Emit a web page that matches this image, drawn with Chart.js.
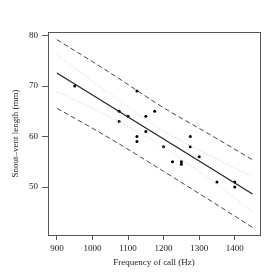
<!DOCTYPE html>
<html>
<head>
<meta charset="utf-8">
<script src="https://cdn.jsdelivr.net/npm/chart.js@4.4.1/dist/chart.umd.min.js"></script>
<style>
  html, body { margin: 0; padding: 0; background: #fff; }
  #wrap { width: 277px; height: 274px; }
</style>
</head>
<body>
<div id="wrap"><canvas id="callChart" width="277" height="274"></canvas></div>
<script>
// =================== DATA ===================
const freqHz = [950, 1075, 1075, 1100, 1125, 1125, 1125, 1150, 1150, 1175, 1200, 1225, 1250, 1250, 1275, 1275, 1300, 1350, 1400, 1400];
const svlMm  = [70, 65, 63, 64, 69, 60, 59, 64, 61, 65, 58, 55, 55, 54.5, 60, 58, 56, 51, 51, 50];

// fitted line
const fitX = [900, 1450];
const fitY = [72.6, 48.6];

// bands
const bandX        = [900, 1050, 1200, 1325, 1450];
const confUpper    = [76.2, 68.4, 61.1, 56.4, 52.0];
const confLower    = [68.9, 63.8, 57.9, 51.8, 45.2];
const predUpper    = [79.2, 72.6, 65.7, 60.6, 55.4];
const predLower    = [65.6, 59.6, 53.1, 47.6, 42.0];

const xTicks = [900, 1000, 1100, 1200, 1300, 1400];
const yTicks = [50, 60, 70, 80];

const pairs = (xs, ys) => xs.map((x, i) => ({ x: x, y: ys[i] }));

// box around plot area
const boxPlugin = {
  id: "box",
  afterDatasetsDraw(chart) {
    const a = chart.chartArea;
    const ctx = chart.ctx;
    ctx.save();
    ctx.strokeStyle = "#555";
    ctx.lineWidth = 1;
    ctx.strokeRect(Math.round(a.left) + 0.5, Math.round(a.top) + 0.5,
                   Math.round(a.right - a.left), Math.round(a.bottom - a.top));
    ctx.restore();
  }
};

const serif = "'Liberation Serif', 'DejaVu Serif', serif";

function bandLine(ys, color, dash, width) {
  return {
    type: "line",
    data: pairs(bandX, ys),
    borderColor: color,
    borderWidth: width,
    borderDash: dash,
    pointRadius: 0,
    cubicInterpolationMode: "monotone",
    fill: false
  };
}

new Chart(document.getElementById("callChart"), {
  type: "scatter",
  data: {
    datasets: [
      bandLine(predUpper, "#444", [5, 3], 1),
      bandLine(predLower, "#444", [5, 3], 1),
      bandLine(confUpper, "#c8c8c8", [1, 2], 1),
      bandLine(confLower, "#c8c8c8", [1, 2], 1),
      {
        type: "line",
        data: pairs(fitX, fitY),
        borderColor: "#222",
        borderWidth: 1.2,
        pointRadius: 0,
        fill: false
      },
      {
        data: pairs(freqHz, svlMm),
        backgroundColor: "#000",
        borderColor: "#000",
        pointRadius: 1.5,
        borderWidth: 0
      }
    ]
  },
  options: {
    responsive: false,
    animation: false,
    events: [],
    layout: { padding: { top: 32, right: 17, left: 10, bottom: 6 } },
    plugins: { legend: { display: false }, tooltip: { enabled: false } },
    scales: {
      x: {
        type: "linear",
        min: 875,
        max: 1471,
        afterBuildTicks: s => { s.ticks = xTicks.map(v => ({ value: v })); },
        afterFit: s => { s.height = 33; },
        grid: { drawOnChartArea: false, drawTicks: true, tickLength: 5, color: "#555" },
        border: { display: false },
        ticks: { color: "#222", padding: 3, maxRotation: 0, font: { family: serif, size: 9 }, callback: v => String(v) },
        title: { display: true, text: "Frequency of call (Hz)", color: "#222", padding: { top: 0, bottom: 0 }, font: { family: serif, size: 9 } }
      },
      y: {
        type: "linear",
        min: 40.5,
        max: 80.7,
        afterBuildTicks: s => { s.ticks = yTicks.map(v => ({ value: v })); },
        afterFit: s => { s.width = 38; },
        grid: { drawOnChartArea: false, drawTicks: true, tickLength: 6, color: "#555" },
        border: { display: false },
        ticks: { color: "#222", padding: 4, font: { family: serif, size: 9 }, callback: v => String(v) },
        title: { display: true, text: "Snout–vent length (mm)", color: "#222", padding: { top: 0, bottom: 0 }, font: { family: serif, size: 9 } }
      }
    }
  },
  plugins: [boxPlugin]
});
</script>
</body>
</html>
